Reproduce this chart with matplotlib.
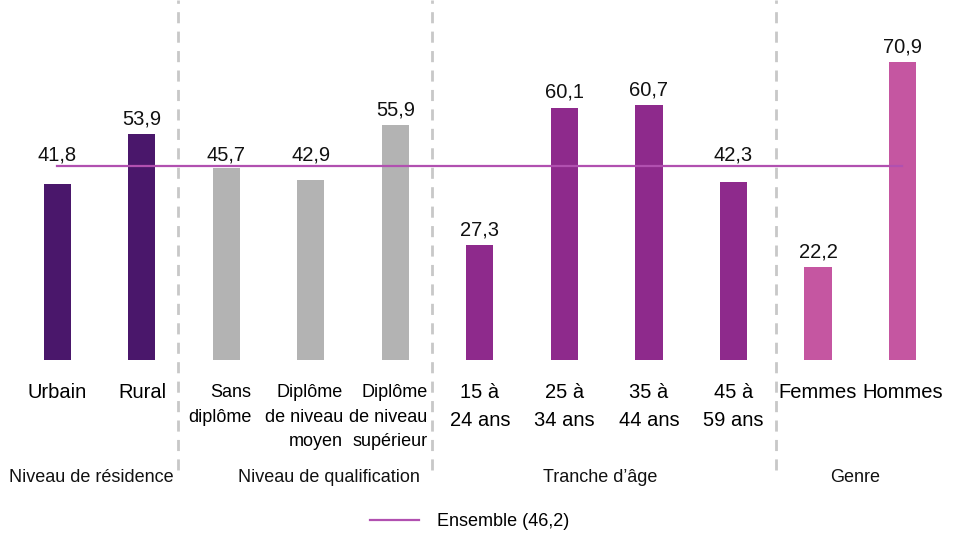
import matplotlib.pyplot as plt
import matplotlib.transforms as mtransforms
from matplotlib.lines import Line2D

# data
categories = ['Urbain', 'Rural',
              'Sans\ndiplôme', 'Diplôme\nde niveau\nmoyen', 'Diplôme\nde niveau\nsupérieur',
              '15 à\n24 ans', '25 à\n34 ans', '35 à\n44 ans', '45 à\n59 ans',
              'Femmes', 'Hommes']
values = [41.8, 53.9, 45.7, 42.9, 55.9, 27.3, 60.1, 60.7, 42.3, 22.2, 70.9]
groups = ['Niveau de résidence', 'Niveau de qualification', "Tranche d’âge", 'Genre']
group_of = [0, 0, 1, 1, 1, 2, 2, 2, 2, 3, 3]
ensemble = 46.2

group_colors = ['#4A176B', '#B3B3B3', '#8E2A8C', '#C556A1']

plt.rcParams['font.family'] = ['Liberation Sans', 'DejaVu Sans']

fig = plt.figure(figsize=(9.57, 5.33), dpi=100)
ax = fig.add_axes([0, 173 / 533, 1, 360 / 533])

x = list(range(len(values)))
colors = [group_colors[g] for g in group_of]
ax.bar(x, values, width=0.32, color=colors, zorder=2)

# labels just under the mean line are lifted above it
for xi, v in zip(x, values):
    y = v
    if ensemble - 8 < v < ensemble + 1:
        y = 45.2
    ax.annotate(f'{v:.1f}'.replace('.', ','), (xi, y), xytext=(0, 4),
                textcoords='offset points', ha='center', va='bottom',
                fontsize=14.5, color='#111111')

ax.plot([x[0], x[-1]], [ensemble, ensemble], color='#B150B0', lw=1.6, zorder=3,
        label=f'Ensemble ({ensemble:.1f})'.replace('.', ','))

ax.set_xlim(-0.68, 10.645)
ax.set_ylim(0, 85.7)
ax.axis('off')

xtrans = ax.get_xaxis_transform()
for i, lab in enumerate(categories):
    if group_of[i] == 1:
        off = mtransforms.ScaledTranslation(-7 / 100, 0, fig.dpi_scale_trans)
        ax.text(x[i], -0.068, lab, transform=xtrans + off, ha='center', va='top',
                fontsize=13, multialignment='right', linespacing=1.55)
    else:
        ax.text(x[i], -0.064, lab, transform=xtrans, ha='center', va='top',
                fontsize=14.5, multialignment='center', linespacing=1.6)

trans = mtransforms.blended_transform_factory(ax.transData, fig.transFigure)
for dx in [1.43, 4.43, 8.5]:
    fig.add_artist(Line2D([dx, dx], [1 - 470 / 533, 1.0], transform=trans,
                          color='#C8C8C8', lw=2, linestyle=(0, (4, 3))))

group_x = [0.40, 3.21, 6.42, 9.44]
for gx, g in zip(group_x, groups):
    fig.text(gx, 1 - 478 / 533, g, transform=trans, ha='center', va='center',
             fontsize=13, color='#111111')

fig.legend(loc='center', bbox_to_anchor=(0.491, 1 - 522 / 533), frameon=False,
           fontsize=13, handlelength=2.7, handletextpad=1.0)

fig.savefig('out.png', dpi=100)
